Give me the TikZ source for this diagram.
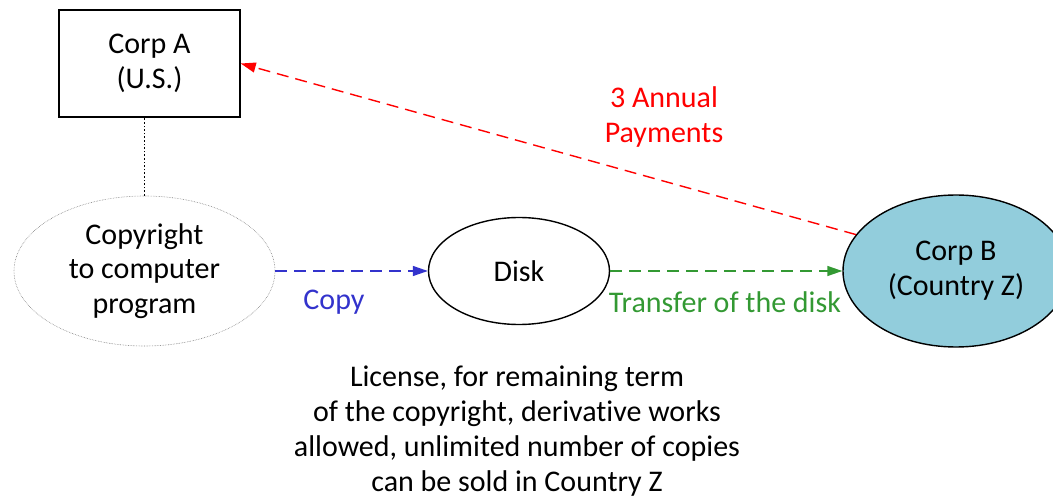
\documentclass[tikz,border=0pt]{standalone}
\usepackage{fontspec}
\setmainfont[Ligatures=NoCommon]{Carlito}
\usetikzlibrary{shapes.geometric,arrows.meta}
\definecolor{pred}{RGB}{255,0,0}
\definecolor{pblue}{RGB}{51,51,204}
\definecolor{pgreen}{RGB}{51,153,51}
\definecolor{pfill}{RGB}{146,205,220}
\begin{document}
\begin{tikzpicture}[x=1pt,y=-1pt,
  every node/.style={font=\fontsize{30}{34.8}\selectfont, align=center, inner sep=0pt},
  boxnode/.style={draw, line width=1.5pt, minimum width=181pt, minimum height=107pt},
  ovalnode/.style={ellipse, draw, line width=1.4pt},
  conn/.style={dash pattern=on 12pt off 7pt, line width=1.4pt, -{Triangle[length=15pt,width=10pt]}}
]
\useasboundingbox (0,0) rectangle (1053,497);
\node[boxnode] (A) at (149.5,63.5) {Corp A\\(U.S.)};
\node[ellipse, draw=gray, densely dotted, line width=0.6pt, minimum width=261pt, minimum height=150pt] (C) at (144.5,271) {Copyright\\to computer\\program};
\node[ovalnode, minimum width=181pt, minimum height=107pt] (D) at (519,271) {Disk};
\node[ovalnode, fill=pfill, minimum width=226pt, minimum height=152pt] (B) at (956,271) {Corp B\\(Country Z)};
\draw[dotted, line width=1.6pt] (C.north) -- (C.north |- A.south);
\draw[conn, pblue] (C.east) -- (D.west);
\draw[conn, pgreen] (D.east) -- (B.west);
\draw[conn, pred] (B.160) -- (A.east);
\node[text=pred] (lp) at (664,117) {3 Annual\\Payments};
\node[text=pblue] (lc) at (334,302) {Copy};
\node[text=pgreen] (lt) at (725,302) {Transfer of the disk};
\node (ll) at (517,431) {License, for remaining term\\of the copyright, derivative works\\allowed, unlimited number of copies\\can be sold in Country Z};
\end{tikzpicture}
\end{document}
